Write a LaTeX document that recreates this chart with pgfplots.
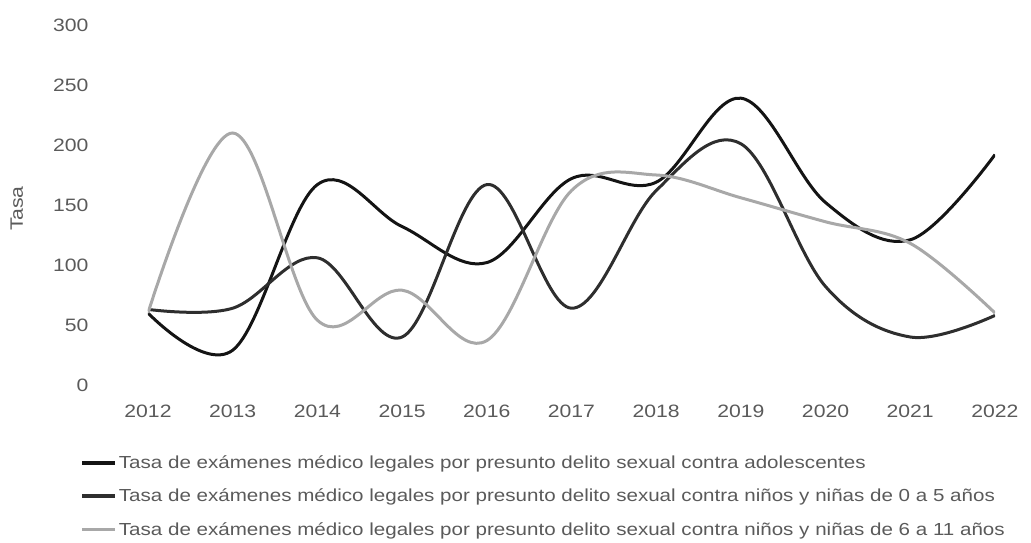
\documentclass[border=0pt]{standalone}
\usepackage{pgfplots}
\pgfplotsset{compat=1.18}
\usepackage{fontspec}
\setmainfont[FakeStretch=1.18]{Liberation Sans}

\definecolor{adol}{HTML}{141414}
\definecolor{ninos}{HTML}{2E2E2E}
\definecolor{ninas}{HTML}{A8A8A8}
\definecolor{txt}{HTML}{5A5A5A}

\begin{document}
\begin{tikzpicture}
\begin{axis}[
    name=main,
    scale only axis,
    width=847bp, height=360bp,
    xmin=2012, xmax=2022,
    ymin=0, ymax=300,
    xtick={2012,...,2022},
    ytick={0,50,...,300},
    xticklabel style={/pgf/number format/1000 sep={}, yshift=-16bp},
    yticklabel style={xshift=-56bp},
    /pgf/number format/assume math mode=true,
    ticklabel style={font=\fontsize{18}{20}\selectfont, text=txt},
    axis line style={draw=none},
    tick style={draw=none},
    ylabel={Tasa},
    every axis y label/.style={at={(-0.155,0.49)}, rotate=90, anchor=center, font=\fontsize{18}{20}\selectfont, text=txt},
    legend style={at={(-0.080,-0.19)}, anchor=north west, draw=none, fill=none,
        font=\fontsize{17.5}{19}\selectfont, text=txt, row sep=15bp,
        legend cell align=left, inner sep=0pt},
    legend image code/.code={\draw[#1, line width=3.5bp] (0bp,0bp) -- (33bp,0bp);},
    every axis plot/.append style={line width=3bp, smooth, tension=0.6},
]
\addplot[adol] coordinates {
 (2012,60) (2013,29) (2014,167) (2015,132) (2016,102) (2017,172)
 (2018,169) (2019,239) (2020,152) (2021,121) (2022,192)
};
\addlegendentry{Tasa de exámenes médico legales por presunto delito sexual contra adolescentes}
\addplot[ninos] coordinates {
 (2012,63) (2013,64) (2014,106) (2015,40) (2016,167) (2017,64)
 (2018,162) (2019,201) (2020,82) (2021,40) (2022,58)
};
\addlegendentry{Tasa de exámenes médico legales por presunto delito sexual contra niños y niñas de 0 a 5 años}
\addplot[ninas] coordinates {
 (2012,60) (2013,210) (2014,54) (2015,79) (2016,37) (2017,162)
 (2018,175) (2019,156) (2020,136) (2021,118) (2022,60)
};
\addlegendentry{Tasa de exámenes médico legales por presunto delito sexual contra niños y niñas de 6 a 11 años}
\end{axis}
\path ([xshift=-148bp,yshift=-158bp]main.south west) rectangle ([xshift=883bp,yshift=385bp]main.south west);
\end{tikzpicture}
\end{document}
